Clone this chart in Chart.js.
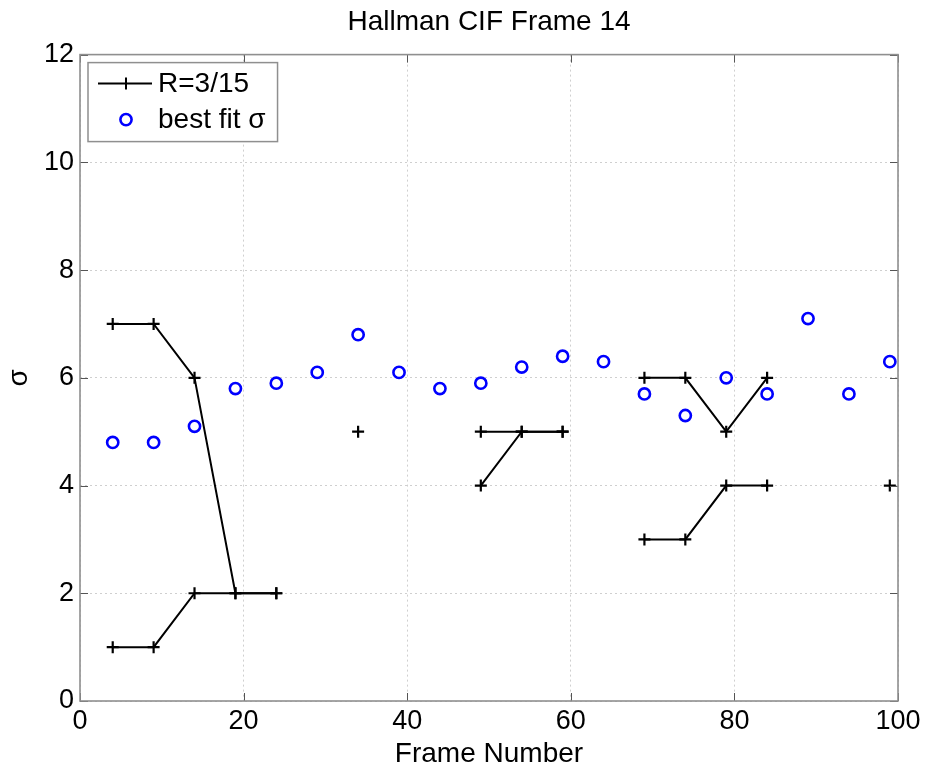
<!DOCTYPE html>
<html>
<head>
<meta charset="utf-8">
<script src="https://cdn.jsdelivr.net/npm/chart.js@4/dist/chart.umd.min.js"></script>
<style>
  html, body { margin: 0; padding: 0; background: #ffffff; }
  #wrap { width: 931px; height: 771px; }
</style>
</head>
<body>
<div id="wrap"><canvas id="c" width="931" height="771"></canvas></div>
<script>
// ---- data ----
const frames  = [4, 9, 14, 19, 24, 29, 34, 39, 44, 49, 54, 59, 64, 69, 74, 79, 84, 89, 94, 99];
const rUpper  = [7, 7, 6, 2, 2, null, 5, null, null, 5, 5, 5, null, 6, 6, 5, 6, null, null, 4];
const rLower  = [1, 1, 2, 2, 2, null, null, null, null, 4, 5, 5, null, 3, 3, 4, 4, null, null, null];
const bestFit = [4.8, 4.8, 5.1, 5.8, 5.9, 6.1, 6.8, 6.1, 5.8, 5.9, 6.2, 6.4, 6.3, 5.7, 5.3, 6.0, 5.7, 7.1, 5.7, 6.3];
const xTicks  = [0, 20, 40, 60, 80, 100];
const yTicks  = [0, 2, 4, 6, 8, 10, 12];
const seriesLabels = ['R=3/15', 'best fit \u03c3'];
const chartTitle = 'Hallman CIF Frame 14';
const xTitle = 'Frame Number';
const yTitle = '\u03c3';

const FONT = '"Liberation Sans", Arial, Helvetica, sans-serif';
const toPts = (ys) => frames.map((f, i) => ({ x: f, y: ys[i] }));

// inside tick marks + axes box + legend
const boxPlugin = {
  id: 'boxPlugin',
  afterDatasetsDraw(chart) {
    const { ctx, chartArea: a, scales: { x, y } } = chart;
    ctx.save();
    ctx.strokeStyle = '#555555';
    ctx.lineWidth = 1;
    const tl = 8;
    xTicks.forEach(v => {
      const px = Math.round(x.getPixelForValue(v)) + 0.5;
      ctx.beginPath();
      ctx.moveTo(px, a.bottom); ctx.lineTo(px, a.bottom - tl);
      ctx.moveTo(px, a.top); ctx.lineTo(px, a.top + tl);
      ctx.stroke();
    });
    yTicks.forEach(v => {
      const py = Math.round(y.getPixelForValue(v)) + 0.5;
      ctx.beginPath();
      ctx.moveTo(a.left, py); ctx.lineTo(a.left + tl, py);
      ctx.moveTo(a.right, py); ctx.lineTo(a.right - tl, py);
      ctx.stroke();
    });
    ctx.strokeStyle = '#8f8f8f';
    ctx.lineWidth = 1.6;
    ctx.strokeRect(a.left, a.top, a.right - a.left, a.bottom - a.top);
    ctx.restore();
  },
  afterDraw(chart) {
    const { ctx, chartArea: a } = chart;
    const ds = chart.data.datasets;
    ctx.save();
    ctx.font = '28px ' + FONT;
    const textW = Math.max(...seriesLabels.map(s => ctx.measureText(s).width));
    const bx = a.left + 8, by = a.top + 8;
    const bw = 70 + textW + 12, bh = 79;
    ctx.fillStyle = '#ffffff';
    ctx.fillRect(bx, by, bw, bh);
    ctx.strokeStyle = '#8f8f8f';
    ctx.lineWidth = 1.5;
    ctx.strokeRect(bx, by, bw, bh);
    const r1 = by + 21, r2 = by + 57;
    ctx.strokeStyle = ds[0].borderColor;
    ctx.lineWidth = ds[0].borderWidth;
    ctx.beginPath();
    ctx.moveTo(bx + 10, r1); ctx.lineTo(bx + 64, r1);
    const cx = bx + 38, m = ds[0].pointRadius;
    ctx.moveTo(cx, r1 - m); ctx.lineTo(cx, r1 + m);
    ctx.stroke();
    ctx.strokeStyle = ds[2].borderColor;
    ctx.lineWidth = ds[2].pointBorderWidth;
    ctx.beginPath();
    ctx.arc(cx, r2, ds[2].pointRadius, 0, Math.PI * 2);
    ctx.stroke();
    ctx.fillStyle = '#000000';
    ctx.textBaseline = 'middle';
    ctx.textAlign = 'left';
    ctx.fillText(seriesLabels[0], bx + 70, r1 + 1);
    ctx.fillText(seriesLabels[1], bx + 70, r2 + 1);
    ctx.restore();
  }
};

new Chart(document.getElementById('c'), {
  type: 'scatter',
  data: {
    datasets: [
      {
        label: seriesLabels[0],
        data: toPts(rUpper),
        showLine: true, spanGaps: false,
        borderColor: '#000000', backgroundColor: '#000000',
        borderWidth: 2,
        pointStyle: 'cross', pointRadius: 6, pointBorderWidth: 2.2,
        pointBorderColor: '#000000'
      },
      {
        label: seriesLabels[0] + ' (2)',
        data: toPts(rLower),
        showLine: true, spanGaps: false,
        borderColor: '#000000', backgroundColor: '#000000',
        borderWidth: 2,
        pointStyle: 'cross', pointRadius: 6, pointBorderWidth: 2.2,
        pointBorderColor: '#000000'
      },
      {
        label: seriesLabels[1],
        data: toPts(bestFit),
        showLine: false,
        borderColor: '#0000ff', backgroundColor: 'rgba(0,0,0,0)',
        pointStyle: 'circle', pointRadius: 5.6, pointBorderWidth: 2.6,
        pointBorderColor: '#0000ff', pointBackgroundColor: 'rgba(0,0,0,0)'
      }
    ]
  },
  options: {
    responsive: false,
    animation: false,
    devicePixelRatio: 1,
    layout: { padding: { top: 0, left: 0, right: 33, bottom: 0 } },
    plugins: {
      legend: { display: false },
      tooltip: { enabled: false },
      title: {
        display: true,
        text: chartTitle,
        fullSize: false,
        color: '#000000',
        font: { family: FONT, size: 28, weight: 'normal', lineHeight: 1.2 },
        padding: { top: 5, bottom: 16 }
      }
    },
    scales: {
      x: {
        type: 'linear', min: 0, max: 100,
        afterFit(s) { s.height = 70; },
        afterBuildTicks(s) { s.ticks = xTicks.map(v => ({ value: v })); },
        ticks: { color: '#000000', font: { family: FONT, size: 27 }, padding: 4, maxRotation: 0 },
        grid: { color: '#cfcfcf', lineWidth: 1, drawTicks: false },
        border: { display: false, dash: [2, 3] },
        title: { display: true, text: xTitle, color: '#000000', padding: 0,
                 font: { family: FONT, size: 28, lineHeight: 1.2 } }
      },
      y: {
        type: 'linear', min: 0, max: 12,
        afterFit(s) { s.width = 80; },
        afterBuildTicks(s) { s.ticks = yTicks.map(v => ({ value: v })); },
        ticks: { color: '#000000', font: { family: FONT, size: 27 }, padding: 6 },
        grid: { color: '#cfcfcf', lineWidth: 1, drawTicks: false },
        border: { display: false, dash: [2, 3] },
        title: { display: true, text: yTitle, color: '#000000', padding: { top: 2, bottom: 0 },
                 font: { family: FONT, size: 28, lineHeight: 1.2 } }
      }
    }
  },
  plugins: [boxPlugin]
});
</script>
</body>
</html>
